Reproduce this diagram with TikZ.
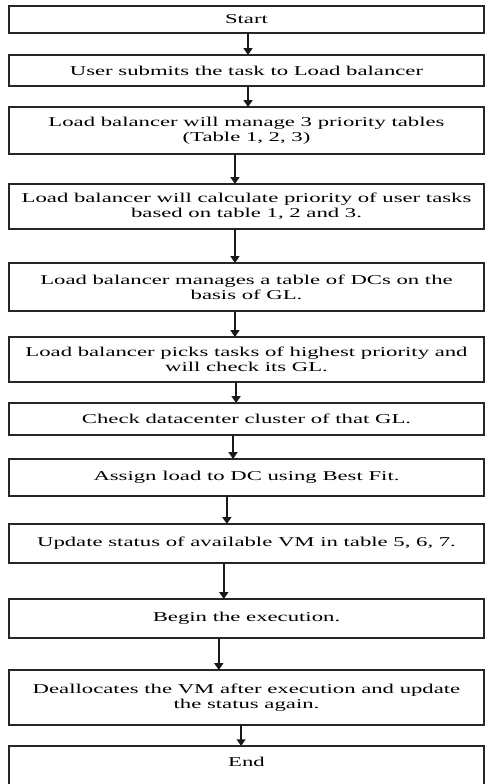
\documentclass[tikz,border=0pt]{standalone}
\usepackage{fontspec}
\setmainfont{Liberation Serif}[FakeStretch=1.68]
\usepackage{xcolor}
\usepackage{tikz}
\usetikzlibrary{arrows.meta, positioning}

\begin{document}
\begin{tikzpicture}[
  stepbox/.style={rectangle, draw=black!85, line width=1.1pt, outer sep=0pt, align=center, minimum width=12.35cm, inner xsep=2pt, font=\fontsize{10}{11}\selectfont},
  arr/.style={-{Triangle[width=6.5pt,length=5pt]}, line width=1.2pt, black!90}
]
\useasboundingbox (-6.409,0.507) rectangle (6.201,-19.877);

\node[stepbox, minimum height=0.702cm] (start) at (0,0) {Start};
\node[stepbox, minimum height=0.806cm, below=0.572cm of start] (submit) {User submits the task to Load balancer};
\node[stepbox, minimum height=1.222cm, below=0.546cm of submit] (tables) {Load balancer will manage 3 priority tables\\(Table 1, 2, 3)};
\node[stepbox, minimum height=1.17cm, below=0.78cm of tables] (calc) {Load balancer will calculate priority of user tasks\\based on table 1, 2 and 3.};
\node[stepbox, minimum height=1.248cm, below=0.884cm of calc] (dctable) {Load balancer manages a table of DCs on the\\basis of GL.};
\node[stepbox, minimum height=1.17cm, below=0.676cm of dctable] (pick) {Load balancer picks tasks of highest priority and\\will check its GL.};
\node[stepbox, minimum height=0.832cm, below=0.546cm of pick] (check) {Check datacenter cluster of that GL.};
\node[stepbox, minimum height=0.962cm, below=0.624cm of check] (assign) {Assign load to DC using Best Fit.};
\node[stepbox, minimum height=1.014cm, below=0.728cm of assign] (update) {Update status of available VM in table 5, 6, 7.};
\node[stepbox, minimum height=1.014cm, below=0.936cm of update] (exec) {Begin the execution.};
\node[stepbox, minimum height=1.43cm, below=0.832cm of exec] (dealloc) {Deallocates the VM after execution and update\\the status again.};
\node[stepbox, minimum height=1.144cm, text depth=0.3cm, below=0.546cm of dealloc] (stop) {End};

\draw[arr] ([xshift=0.04cm]start.south) -- ([xshift=0.04cm]submit.north);
\draw[arr] ([xshift=0.04cm]submit.south) -- ([xshift=0.04cm]tables.north);
\draw[arr] ([xshift=-0.3cm]tables.south) -- ([xshift=-0.3cm]calc.north);
\draw[arr] ([xshift=-0.3cm]calc.south) -- ([xshift=-0.3cm]dctable.north);
\draw[arr] ([xshift=-0.3cm]dctable.south) -- ([xshift=-0.3cm]pick.north);
\draw[arr] ([xshift=-0.27cm]pick.south) -- ([xshift=-0.27cm]check.north);
\draw[arr] ([xshift=-0.35cm]check.south) -- ([xshift=-0.35cm]assign.north);
\draw[arr] ([xshift=-0.51cm]assign.south) -- ([xshift=-0.51cm]update.north);
\draw[arr] ([xshift=-0.59cm]update.south) -- ([xshift=-0.59cm]exec.north);
\draw[arr] ([xshift=-0.72cm]exec.south) -- ([xshift=-0.72cm]dealloc.north);
\draw[arr] ([xshift=-0.14cm]dealloc.south) -- ([xshift=-0.14cm]stop.north);
\end{tikzpicture}
\end{document}
